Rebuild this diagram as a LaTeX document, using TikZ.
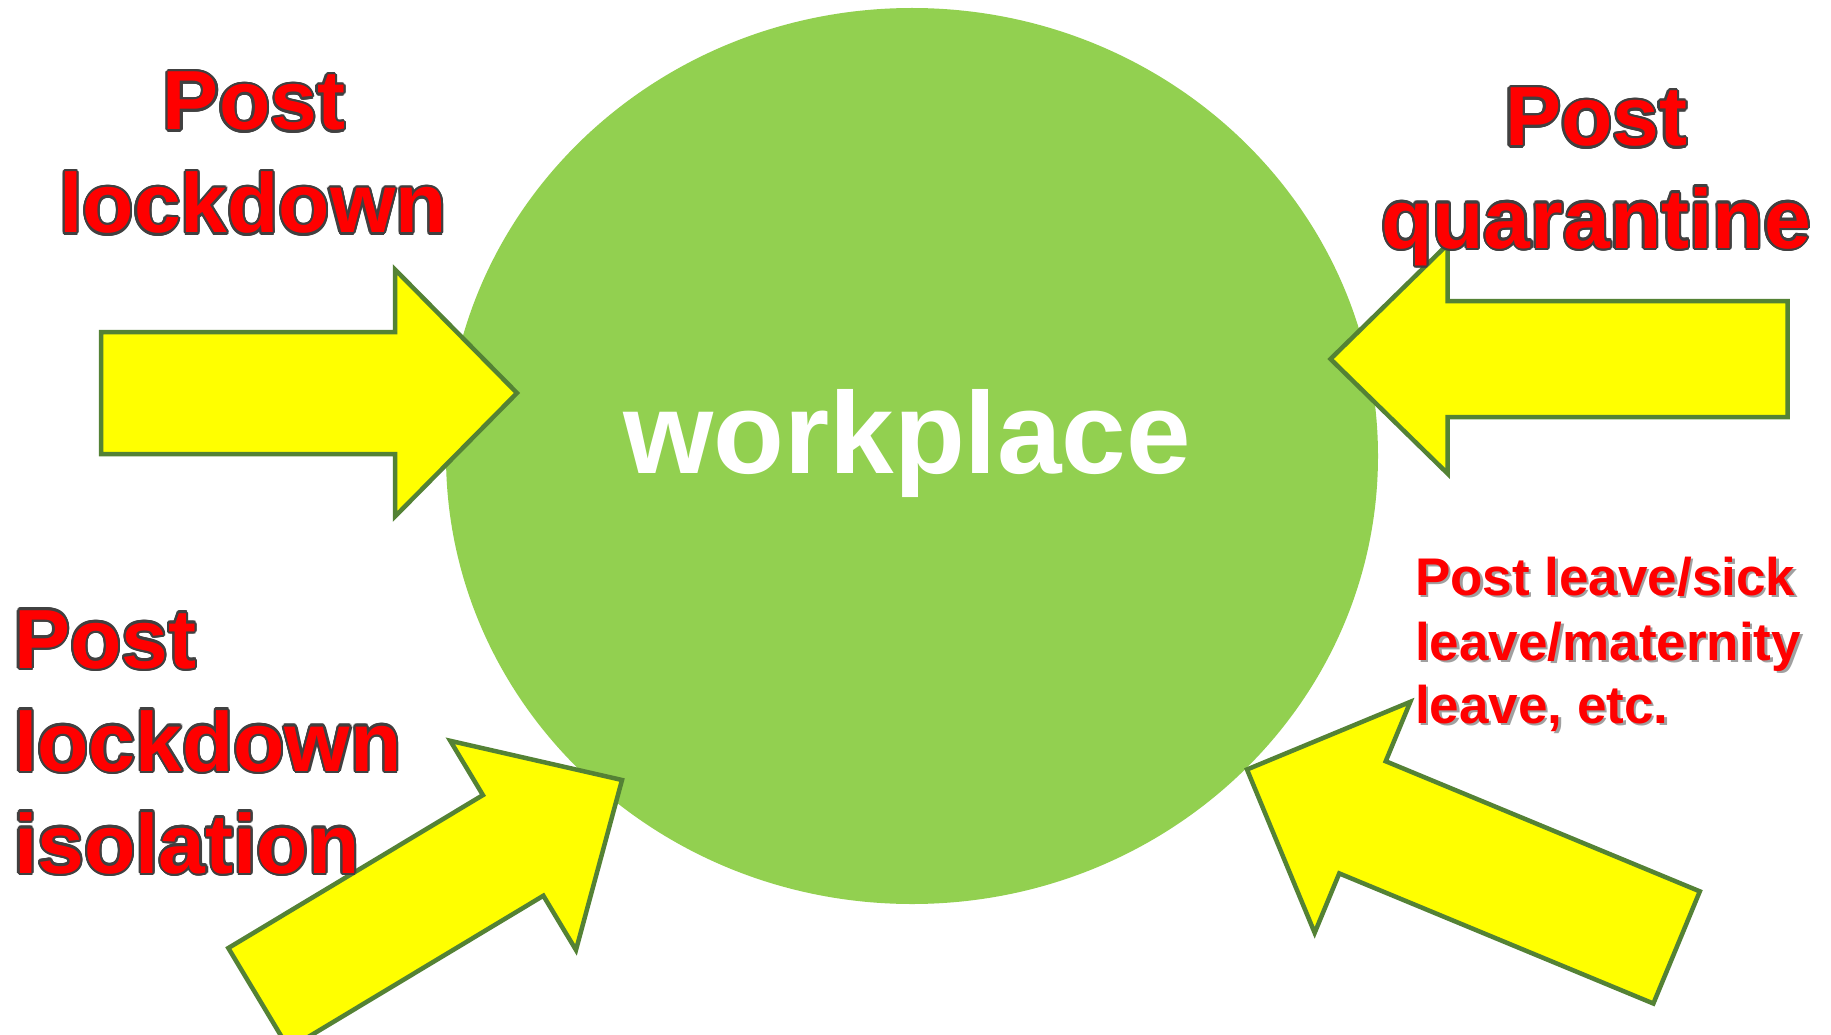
\documentclass[tikz,border=0pt]{standalone}
\usepackage{fontspec}
\setmainfont{Liberation Sans}

\definecolor{discgreen}{HTML}{92D050}
\definecolor{arrowfill}{HTML}{FFFF00}
\definecolor{arrowedge}{HTML}{548235}
\definecolor{labelred}{HTML}{FF0000}
\definecolor{labeledge}{HTML}{404040}
\definecolor{shadowgray}{HTML}{A0A0A0}

\tikzset{
  disc/.style={fill=discgreen, draw=none},
  blockarrow/.style={fill=arrowfill, draw=arrowedge, line width=4.5pt, line join=miter},
  biglabel/.style={font=\bfseries\fontsize{84}{100}\selectfont, inner sep=0pt},
  smalllabel/.style={font=\bfseries\fontsize{53}{64}\selectfont, inner sep=0pt, anchor=base west},
  centreword/.style={font=\bfseries\fontsize{116}{130}\selectfont, inner sep=0pt, anchor=base, text=white},
}

% block arrow: name, tip, direction, total length, head length, head half-width, shaft half-width
\newcommand\blockarrow[7]{%
  \begin{scope}[shift={#2}, rotate=#3]
    \draw[blockarrow] (0,0) coordinate (#1)
      -- (-#5,-#6) -- (-#5,-#7) -- (-#4,-#7) -- (-#4,#7) -- (-#5,#7) -- (-#5,#6) -- cycle;
  \end{scope}}

% red lettering with a dark rim, built from offset copies behind the red face
\newcommand\rimtext[1]{%
  \foreach \a in {0,22.5,...,337.5}{%
    \pgfmathsetlengthmacro\rimdx{2.2pt*cos(\a)}%
    \pgfmathsetlengthmacro\rimdy{2.2pt*sin(\a)}%
    \rlap{\hspace*{\rimdx}\raisebox{\rimdy}{\textcolor{labeledge}{#1}}}}%
  \textcolor{labelred}{#1}}

% red lettering with a soft drop shadow
\newcommand\shadowtext[1]{%
  \rlap{\hspace*{2.5pt}\raisebox{-2.5pt}{\textcolor{shadowgray}{#1}}}%
  \textcolor{labelred}{#1}}

\begin{document}
\begin{tikzpicture}[x=1pt, y=-1pt]
  \useasboundingbox (0,0) rectangle (1831,1035);
  \fill[white] (0,0) rectangle (1831,1035);

  % central disc
  \fill[disc] (912,456) ellipse [x radius=466, y radius=448];
  \node[centreword] (workplace) at (907,473) {workplace};

  % incoming arrows
  \blockarrow{tipA}{(517,393)}{0}{416}{122}{123.5}{61}
  \blockarrow{tipB}{(1330.5,359)}{180}{457}{117}{114.5}{58}
  \blockarrow{tipC}{(622,780)}{31}{424}{127}{122}{58.7}
  \blockarrow{tipD}{(1247,769.5)}{157.5}{465}{125}{125}{60.7}

  % labels
  \node[biglabel, anchor=base] (lockA1) at (254,130) {\rimtext{Post}};
  \node[biglabel, anchor=base] (lockA2) at (253,233) {\rimtext{lockdown}};

  \node[biglabel, anchor=base] (quarB1) at (1596,146) {\rimtext{Post}};
  \node[biglabel, anchor=base] (quarB2) at (1596,248) {\rimtext{quarantine}};

  \node[biglabel, anchor=base west] (isoC1) at (14,668) {\rimtext{Post}};
  \node[biglabel, anchor=base west] (isoC2) at (14,771) {\rimtext{lockdown}};
  \node[biglabel, anchor=base west] (isoC3) at (14,873) {\rimtext{isolation}};

  \node[smalllabel] (leaveD1) at (1415,595) {\shadowtext{Post leave/sick}};
  \node[smalllabel] (leaveD2) at (1415,660) {\shadowtext{leave/maternity}};
  \node[smalllabel] (leaveD3) at (1415,723) {\shadowtext{leave, etc.}};
\end{tikzpicture}
\end{document}
